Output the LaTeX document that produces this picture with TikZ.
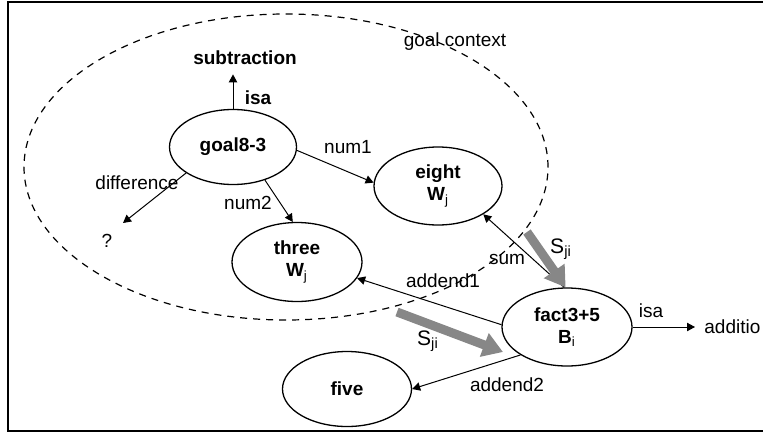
\documentclass[tikz,border=0pt]{standalone}
\usepackage{fontspec}
\setmainfont{Liberation Sans}
\usetikzlibrary{arrows.meta,shapes.geometric}
\definecolor{spreadgrey}{RGB}{135,135,135}

\begin{document}
\begin{tikzpicture}[x=0.5pt,y=-0.5pt,
  every node/.style={font=\fontsize{9.5}{11}\selectfont},
  chunk/.style={draw, ellipse, line width=0.65pt, inner sep=0pt, align=center,
    font=\fontsize{9.5}{11}\selectfont\bfseries},
  lbl/.style={inner sep=1pt},
  link/.style={line width=0.5pt, -{Triangle[length=4pt,width=4.2pt]}},
  spread/.style={draw=spreadgrey, line width=4.5pt, -{Triangle[length=10pt,width=12pt]}},
  context/.style={line width=0.6pt, dash pattern=on 3.5pt off 3pt}
]
\useasboundingbox (0,0) rectangle (763,433);

% outer frame
\draw[line width=1pt] (8,2) rectangle (800,431);

% goal context region
\draw[context] (286,167) ellipse [x radius=131pt, y radius=76.5pt];
\node[lbl] (ctx) at (455,42) {goal context};

% chunks
\node[chunk, minimum width=63.5pt, minimum height=37.5pt] (goal) at (233,147) {goal8-3};
\node[chunk, minimum width=64pt, minimum height=39pt] (eight) at (438,186) {eight\\W\textsubscript{\mdseries j}};
\node[chunk, minimum width=65pt, minimum height=39.5pt] (three) at (297,262) {three\\W\textsubscript{\mdseries j}};
\node[chunk, minimum width=64.5pt, minimum height=37.5pt] (five) at (347,389) {five};
\node[chunk, minimum width=65pt, minimum height=39pt] (fact) at (567,327) {fact3+5\\B\textsubscript{\mdseries i}};

% plain value nodes
\node[lbl, font=\fontsize{9.5}{11}\selectfont\bfseries] (sub) at (245,58) {subtraction};
\node[lbl, anchor=west] (add) at (702,327) {additio};
\node[lbl] (q) at (107,241) {?};
\coordinate (qtip) at (123,223);

% slot links
\draw[link, shorten >=3.5pt] (goal.north) -- (goal.north |- sub.south);
\draw[link] (goal.-3) -- (eight.177);
\draw[link] (goal.209) -- (qtip);
\draw[link] (goal.-46) -- (three.96);
\draw[link] (fact.94) -- (eight.-32);
\draw[link] (fact.178) -- (three.-15);
\draw[link] (fact.211) -- (five.0);
\draw[link, shorten >=3.5pt] (fact.0) -- (add.west);

% slot labels
\node[lbl, font=\fontsize{9.5}{11}\selectfont\bfseries] (isa1) at (258,98) {isa};
\node[lbl] (num1) at (348,147) {num1};
\node[lbl] (diff) at (137,183) {difference};
\node[lbl] (num2) at (248,203) {num2};
\node[lbl] (sum) at (507,259) {sum};
\node[lbl] (add1) at (443,281) {addend1};
\node[lbl] (add2) at (507,385) {addend2};
\node[lbl] (isa2) at (651,311) {isa};

% spreading activation
\coordinate (g1) at (527,232);
\coordinate (g2a) at (397,312);
\coordinate (g2b) at (503,352);
\draw[spread] (g1) -- (fact.92);
\draw[spread] (g2a) -- (g2b);
\node[lbl, font=\fontsize{10.5}{12}\selectfont] (s1) at (561,249) {S\textsubscript{ji}};
\node[lbl, font=\fontsize{10.5}{12}\selectfont] (s2) at (428,341) {S\textsubscript{ji}};
\end{tikzpicture}
\end{document}
